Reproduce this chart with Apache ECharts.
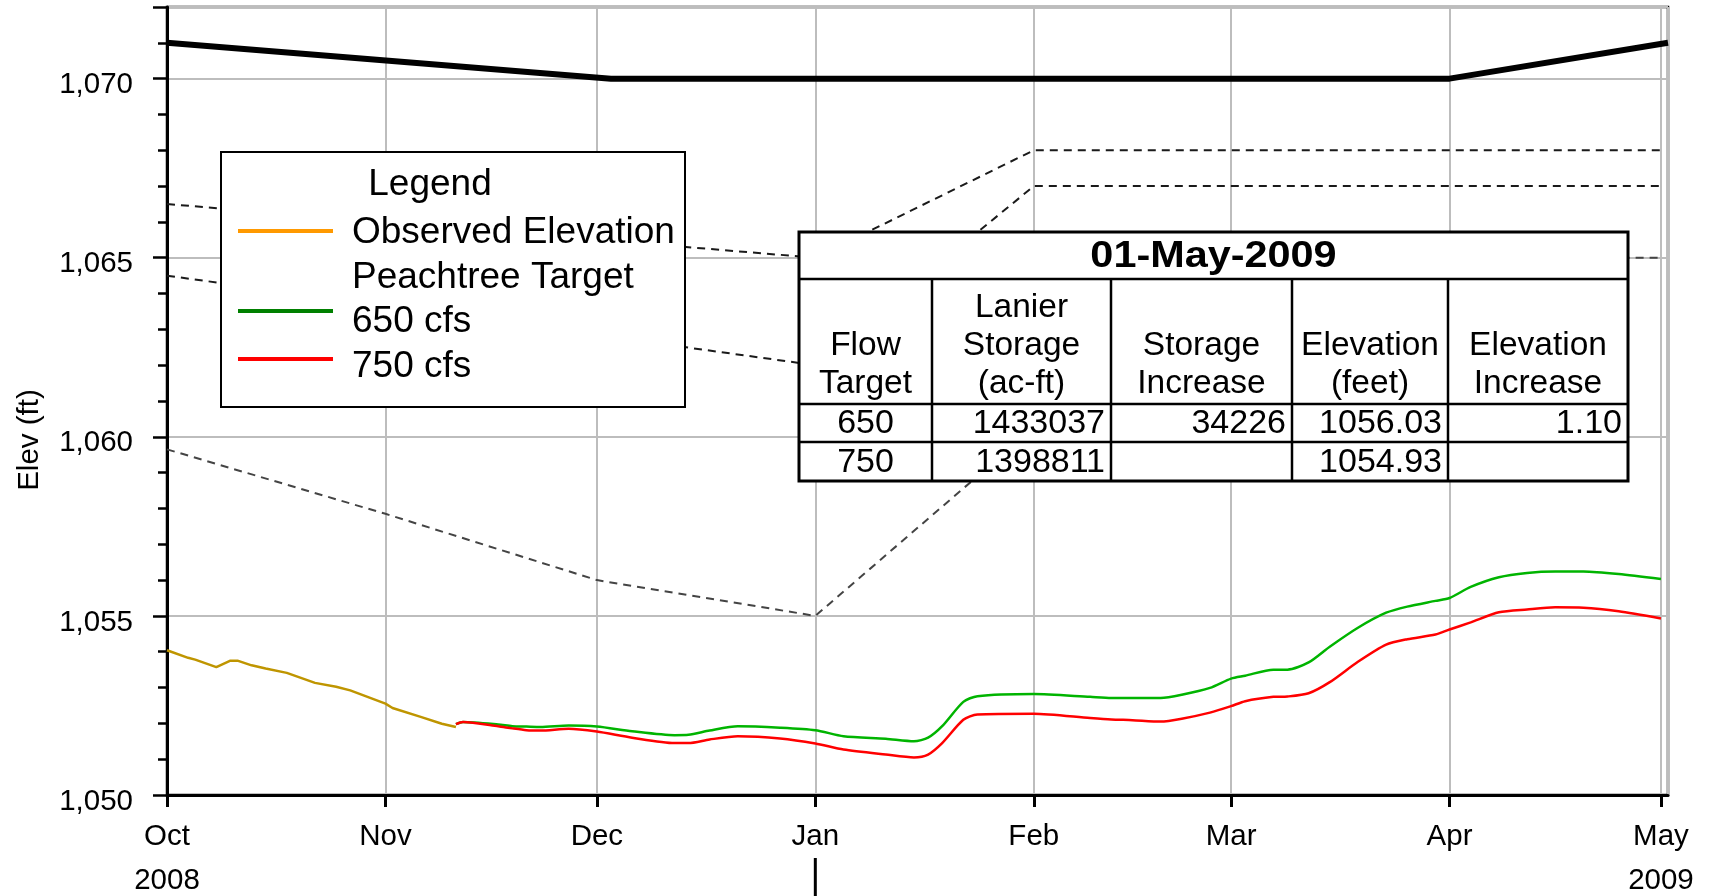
<!DOCTYPE html>
<html><head><meta charset="utf-8">
<script src="https://cdn.jsdelivr.net/npm/echarts@6/dist/echarts.min.js"></script>
<style>html,body{margin:0;padding:0;background:#fff;}#chart{width:1710px;height:896px;}</style>
</head><body><div id="chart"></div>
<script>
// ---------- DATA ----------
const monthLabels = ['Oct', 'Nov', 'Dec', 'Jan', 'Feb', 'Mar', 'Apr', 'May'];
const yearLabels = { Oct: '2008', May: '2009' };
const xMin = '2008-10-01';
const xMax = '2009-05-02';
const yMin = 1050;
const yMax = 1072;
const yearBoundary = '2009-01-01';
const yAxisTitle = 'Elev (ft)';

const observedDates = ['2008-10-01','2008-10-04','2008-10-05','2008-10-08','2008-10-10','2008-10-11','2008-10-13','2008-10-15','2008-10-18','2008-10-22','2008-10-25','2008-10-27','2008-11-01','2008-11-02','2008-11-06','2008-11-09','2008-11-11'];
const observedValues = [1054.04,1053.83,1053.78,1053.57,1053.75,1053.75,1053.62,1053.53,1053.41,1053.13,1053.02,1052.92,1052.55,1052.43,1052.18,1051.99,1051.90];

const simDates = ['2008-11-11','2008-11-12','2008-11-17','2008-11-19','2008-11-21','2008-11-23','2008-11-27','2008-12-01','2008-12-06','2008-12-12','2008-12-14','2008-12-17','2008-12-21','2008-12-27','2009-01-01','2009-01-05','2009-01-11','2009-01-15','2009-01-17','2009-01-19','2009-01-22','2009-01-24','2009-02-01','2009-02-09','2009-02-12','2009-02-15','2009-02-19','2009-02-22','2009-02-26','2009-03-01','2009-03-03','2009-03-07','2009-03-09','2009-03-12','2009-03-15','2009-03-19','2009-03-23','2009-03-26','2009-03-30','2009-04-01','2009-04-04','2009-04-08','2009-04-12','2009-04-16','2009-04-20','2009-04-25','2009-05-01'];
const flow650 = [1051.98,1052.04,1051.97,1051.92,1051.91,1051.90,1051.94,1051.91,1051.78,1051.67,1051.68,1051.80,1051.92,1051.88,1051.81,1051.64,1051.57,1051.50,1051.60,1051.92,1052.60,1052.76,1052.82,1052.74,1052.71,1052.71,1052.71,1052.80,1052.99,1053.25,1053.33,1053.50,1053.50,1053.70,1054.14,1054.67,1055.09,1055.26,1055.42,1055.50,1055.81,1056.08,1056.20,1056.24,1056.24,1056.17,1056.03];
const flow750 = [1051.98,1052.04,1051.92,1051.86,1051.81,1051.80,1051.85,1051.77,1051.60,1051.45,1051.45,1051.55,1051.64,1051.58,1051.44,1051.27,1051.13,1051.05,1051.13,1051.45,1052.10,1052.25,1052.27,1052.15,1052.11,1052.09,1052.05,1052.13,1052.30,1052.48,1052.62,1052.74,1052.75,1052.84,1053.15,1053.72,1054.20,1054.35,1054.48,1054.62,1054.82,1055.10,1055.18,1055.24,1055.23,1055.13,1054.93];

const ruleCurveDates = ['2008-10-01','2008-12-03','2009-04-01','2009-05-02'];
const ruleCurveValues = [1071.0,1070.0,1070.0,1071.0];

const zone1Dates = ['2008-10-01','2009-01-01','2009-02-01','2009-05-01'];
const zone1Values = [1066.5,1065.0,1068.0,1068.0];
const zone2Dates = ['2008-10-01','2009-01-01','2009-02-01','2009-05-01'];
const zone2Values = [1064.5,1062.0,1067.0,1067.0];
const zone3Dates = ['2008-10-01','2008-11-01','2008-12-01','2009-01-01','2009-03-01','2009-05-01'];
const zone3Values = [1059.65,1057.85,1056.0,1055.0,1065.0,1065.0];

const legendTitle = 'Legend';
const legendLabels = ['Observed Elevation', 'Peachtree Target', '650 cfs', '750 cfs'];

const tableTitle = '01-May-2009';
const tableHeaders = ['Flow\nTarget', 'Lanier\nStorage\n(ac-ft)', 'Storage\nIncrease', 'Elevation\n(feet)', 'Elevation\nIncrease'];
const tableRow650 = ['650', '1433037', '34226', '1056.03', '1.10'];
const tableRow750 = ['750', '1398811', '', '1054.93', ''];

// ---------- CHART ----------
const FONT = '"Liberation Sans", Arial, Helvetica, sans-serif';
const pairs = (d, v) => d.map((x, i) => [x, v[i]]);
const chart = echarts.init(document.getElementById('chart'), null, { renderer: 'canvas' });

function monthFormatter(val) {
  const d = new Date(val);
  if (d.getDate() !== 1) return '';
  const idx = (d.getFullYear() - 2008) * 12 + d.getMonth() - 9;
  const m = monthLabels[idx];
  if (m === undefined) return '';
  if (yearLabels[m]) return '{m|' + m + '}\n{y|' + yearLabels[m] + '}';
  return '{m|' + m + '}';
}

const dashed = (name, d, v, color) => ({
  name, type: 'line', data: pairs(d, v), showSymbol: false, symbol: 'none',
  lineStyle: { color, width: 2, type: [8, 6] }, z: 2, silent: true
});

const option = {
  animation: false,
  backgroundColor: '#fff',
  grid: { left: 167, right: 42, top: 7, bottom: 101, show: true, borderColor: '#000', borderWidth: 2.5, backgroundColor: 'transparent' },
  xAxis: {
    type: 'time', min: xMin, max: xMax,
    splitNumber: 7, minInterval: 28 * 864e5, maxInterval: 31 * 864e5,
    axisLine: { lineStyle: { color: '#000', width: 3 } },
    axisTick: { show: true, length: 12, lineStyle: { color: '#000', width: 3 } },
    splitLine: { show: true, lineStyle: { color: '#bdbdbd', width: 2 } },
    axisLabel: {
      margin: 20, formatter: monthFormatter, color: '#000', hideOverlap: false,
      rich: {
        m: { fontSize: 29.5, fontFamily: FONT, color: '#000', lineHeight: 44 },
        y: { fontSize: 29.5, fontFamily: FONT, color: '#000', lineHeight: 44 }
      }
    }
  },
  yAxis: [{
    type: 'value', min: yMin, max: yMax, interval: 5, position: 'left',
    axisLine: { show: true, lineStyle: { color: '#000', width: 3 } },
    axisTick: { show: true, length: 14, lineStyle: { color: '#000', width: 2.5 } },
    splitLine: { show: true, lineStyle: { color: '#bdbdbd', width: 2 } },
    axisLabel: {
      margin: 34, fontSize: 29.5, fontFamily: FONT, color: '#000', verticalAlign: 'top', lineHeight: 13,
      formatter: v => (v % 5 === 0 ? String(v).replace(/\B(?=(\d{3})+(?!\d))/g, ',') : '')
    }
  }, {
    type: 'value', min: yMin, max: yMax, interval: 1, position: 'left', offset: 0,
    axisLine: { show: false },
    axisTick: { show: true, length: 9, lineStyle: { color: '#000', width: 2.5 } },
    splitLine: { show: false }, axisLabel: { show: false }
  }],
  series: [
    dashed('Zone 1', zone1Dates, zone1Values, '#1a1a1a'),
    dashed('Zone 2', zone2Dates, zone2Values, '#1a1a1a'),
    dashed('Zone 3', zone3Dates, zone3Values, '#444'),
    { name: 'Rule Curve', type: 'line', data: pairs(ruleCurveDates, ruleCurveValues), showSymbol: false, symbol: 'none',
      lineStyle: { color: '#000', width: 6 }, z: 3 },
    { name: 'Observed Elevation', type: 'line', data: pairs(observedDates, observedValues), showSymbol: false, symbol: 'none',
      lineStyle: { color: '#bf9500', width: 2.5 }, z: 4 },
    { name: '650 cfs', type: 'line', data: pairs(simDates, flow650), showSymbol: false, symbol: 'none', smooth: 0.25,
      lineStyle: { color: '#00b400', width: 2.5 }, z: 4 },
    { name: '750 cfs', type: 'line', data: pairs(simDates, flow750), showSymbol: false, symbol: 'none', smooth: 0.25,
      lineStyle: { color: '#ff0000', width: 2.5 }, z: 4 }
  ]
};
chart.setOption(option);

// ---------- ANNOTATIONS (legend box, table, axis title, year separator) ----------
const g = [];
const txt = (x, y, text, o, extra) => Object.assign({ type: 'text', x, y, z: 101,
  style: Object.assign({ text, fontFamily: FONT, fontSize: 33, fill: '#000', align: 'center', verticalAlign: 'middle' }, o || {}) }, extra || {});
const ln = (x1, y1, x2, y2, w, c) => ({ type: 'line', z: 101, shape: { x1, y1, x2, y2 }, style: { stroke: c || '#000', lineWidth: w } });

// y axis title
g.push({ type: 'text', x: 30, y: 440, rotation: Math.PI / 2, z: 101,
  style: { text: yAxisTitle, fontFamily: FONT, fontSize: 29.5, fill: '#000', align: 'center', verticalAlign: 'middle' } });

// year separator under Jan
const xJan = chart.convertToPixel({ xAxisIndex: 0 }, yearBoundary);
g.push(ln(xJan, 858, xJan, 896, 3));

// legend box
g.push({ type: 'rect', z: 100, shape: { x: 221, y: 152, width: 464, height: 255 }, style: { fill: '#fff', stroke: '#000', lineWidth: 2 } });
g.push(txt(430, 185, legendTitle, { fontSize: 37 }));
const legendTextY = [233, 278, 322, 367];
const legendSampleY = [231, null, 311, 359];
const legendSampleColor = ['#ff9900', null, '#008000', '#ff0000'];
legendLabels.forEach((lab, i) => {
  g.push(txt(352, legendTextY[i], lab, { fontSize: 37, align: 'left' }));
  if (legendSampleColor[i]) g.push(ln(238, legendSampleY[i], 333, legendSampleY[i], 4, legendSampleColor[i]));
});

// table
const tL = 799, tR = 1628, tT = 232, tB = 481;
const rowY = [279, 404, 442];
const colX = [799, 932, 1111, 1292, 1448, 1628];
g.push({ type: 'rect', z: 100, shape: { x: tL, y: tT, width: tR - tL, height: tB - tT }, style: { fill: '#fff', stroke: '#000', lineWidth: 3 } });
rowY.forEach(y => g.push(ln(tL, y, tR, y, 2.5)));
colX.slice(1, -1).forEach(x => g.push(ln(x, rowY[0], x, tB, 2.5)));
g.push(txt(0, 0, tableTitle, { fontSize: 36, fontWeight: 'bold' }, { x: (tL + tR) / 2, y: 257, scaleX: 1.15 }));
tableHeaders.forEach((h, i) => {
  g.push(txt((colX[i] + colX[i + 1]) / 2, 403, h, { fontSize: 33.5, verticalAlign: 'bottom', lineHeight: 38 }));
});
[tableRow650, tableRow750].forEach((row, r) => {
  const yc = (rowY[1 + r] + (r === 0 ? rowY[2] : tB)) / 2 + 1;
  row.forEach((v, i) => {
    if (!v) return;
    if (i === 0) g.push(txt((colX[0] + colX[1]) / 2, yc, v, { fontSize: 34 }));
    else g.push(txt(colX[i + 1] - 6, yc, v, { fontSize: 34, align: 'right' }));
  });
});

chart.setOption({ graphic: g });
</script>
</body></html>
